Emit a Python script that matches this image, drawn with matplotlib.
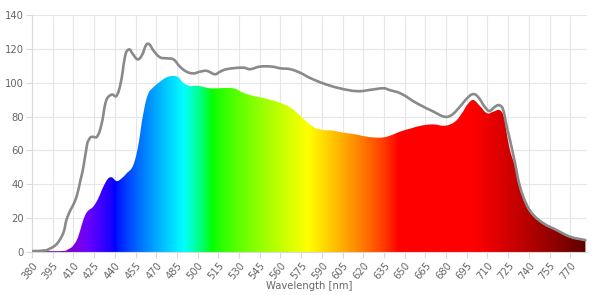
import numpy as np
import matplotlib
matplotlib.use("Agg")
import matplotlib.pyplot as plt
from matplotlib.patches import PathPatch
from matplotlib.path import Path

# ---- data ----
outline_wl = [380, 390, 393, 397, 400, 403, 405, 408, 410, 412.4, 415, 417.2, 420, 421, 423, 427,
              430.5, 434, 437.8, 441, 444.3, 448, 450.5, 453, 456.6, 459.5, 463, 465, 468, 472.8,
              477.6, 482.4, 487.2, 492, 497, 501.7, 506.6, 512.6, 516.2, 521, 533, 538, 545, 554,
              560, 567, 574, 581, 591, 603, 616, 627, 635, 639, 647, 659, 671, 679, 684, 690, 696,
              700, 703.4, 708.3, 711.4, 715, 718.2, 721, 724, 726.4, 730, 733.6, 738.5, 743.3,
              750.5, 760, 770, 781]
outline_val = [0.5, 1, 2, 4, 7, 12, 19, 25, 28, 33, 42, 50, 64, 66, 68, 68,
               76, 90, 93, 92, 100, 117.5, 119.7, 117, 113.8, 116, 122.7, 122.7, 119, 115,
               114.4, 113.8, 109.5, 106.5, 105.5, 106.5, 107, 105, 106.5, 108, 108.9, 108, 109.5, 109.5,
               108.5, 108, 106, 103, 99.6, 96.7, 95, 96, 96.7, 95.7, 93.7, 87.8, 82.9, 79.9, 80.9, 85.8, 91.4,
               93.3, 91.4, 85.5, 83.3, 85.5, 86.8, 84.9, 74, 66, 52.4, 38.6, 27.8, 21.9,
               17, 13, 9, 7]

spectrum_wl = [380, 395, 404, 406, 409, 412.4, 415, 417.2, 420, 424.4, 428, 431.7, 435.3, 437.8,
               441.4, 445, 448.6, 452.2, 454.6, 457, 460.7, 464.3, 467.9, 472.8, 477.6, 482.4, 486,
               489.6, 494.5, 498, 501.7, 509, 526, 533, 538, 545, 555, 562, 567, 573, 579, 585, 591,
               598, 605.6, 613, 620, 627, 634.6, 640.7, 646.7, 654.6, 661.8, 670.8, 679.3, 686.5,
               691.4, 696.2, 699.8, 704.6, 709.9, 714.3, 718.6, 721.5, 724, 726.4, 730, 733.6, 738.5,
               743.3, 750.5, 760, 770, 781]
spectrum_val = [0.5, 0.5, 0.7, 1.5, 3, 7, 13, 19, 23.8, 26.8, 31.7, 38.6, 43.5, 44.1,
                41.9, 43.5, 46.5, 49.4, 54.3, 63, 81.9, 93.7, 97.3, 100.6, 103.2, 104, 103.2,
                100, 98, 98.2, 98, 96.7, 96.7, 94.1, 92.7, 91.4, 89.4, 87.4, 85.5, 81.5, 77, 73.4, 72.1,
                71.7, 70.5, 69.7, 68.5, 67.7, 67.7, 69.1, 71.1, 73, 74.6, 75.4, 74.6, 77,
                81.9, 87.8, 89.8, 86.2, 81.9, 82.9, 83.9, 80.9, 70.1, 60, 50.5, 37, 26.5,
                21, 16.3, 12.5, 8.5, 6.5]

x_ticks = list(range(380, 771, 15))
y_ticks = list(range(0, 141, 20))


def wl_to_rgb(w, gamma=0.8):
    if w < 440:
        r, g, b = -(w - 440) / 60.0, 0.0, 1.0
    elif w < 490:
        r, g, b = 0.0, (w - 440) / 50.0, 1.0
    elif w < 510:
        r, g, b = 0.0, 1.0, -(w - 510) / 20.0
    elif w < 580:
        r, g, b = (w - 510) / 70.0, 1.0, 0.0
    elif w < 645:
        r, g, b = 1.0, -(w - 645) / 65.0, 0.0
    else:
        r, g, b = 1.0, 0.0, 0.0
    if w < 420:
        f = 0.3 + 0.7 * (w - 380) / 40.0
    elif w > 700:
        f = 0.3 + 0.7 * (780 - w) / 80.0
    else:
        f = 1.0
    f = max(f, 0.22)
    return [max(0.0, min(1.0, (c * f) ** gamma)) if c > 0 else 0.0 for c in (r, g, b)]


PX_X, PX_Y = 1.38, 1.693  # approx pixels per unit, for spline tension distances


def spline_path(xs, ys, tension=0.4, close_to_zero=False):
    """Chart.js-style bezier curve through the given points."""
    xs = np.asarray(xs, float)
    ys = np.asarray(ys, float)
    n = len(xs)
    cps_prev = np.zeros((n, 2))
    cps_next = np.zeros((n, 2))
    for i in range(n):
        p = np.array([xs[i], ys[i]])
        pr = np.array([xs[max(i - 1, 0)], ys[max(i - 1, 0)]])
        nx = np.array([xs[min(i + 1, n - 1)], ys[min(i + 1, n - 1)]])
        d01 = np.hypot((p[0] - pr[0]) * PX_X, (p[1] - pr[1]) * PX_Y)
        d12 = np.hypot((nx[0] - p[0]) * PX_X, (nx[1] - p[1]) * PX_Y)
        tot = d01 + d12
        s01 = d01 / tot if tot else 0
        s12 = d12 / tot if tot else 0
        fa, fb = tension * s01, tension * s12
        cps_prev[i] = p - fa * (nx - pr)
        cps_next[i] = p + fb * (nx - pr)
    cps_prev[:, 1] = np.clip(cps_prev[:, 1], 0, 140)
    cps_next[:, 1] = np.clip(cps_next[:, 1], 0, 140)
    verts = [(xs[0], ys[0])]
    codes = [Path.MOVETO]
    for i in range(n - 1):
        verts += [tuple(cps_next[i]), tuple(cps_prev[i + 1]), (xs[i + 1], ys[i + 1])]
        codes += [Path.CURVE4] * 3
    if close_to_zero:
        verts += [(xs[-1], 0), (xs[0], 0), (xs[0], ys[0])]
        codes += [Path.LINETO, Path.LINETO, Path.CLOSEPOLY]
    return Path(verts, codes)


W, H = 600, 295
fig = plt.figure(figsize=(W / 100, H / 100), dpi=100)
x0, x1 = 380, 782
ax_left, ax_right = 32 / W, 586.8 / W
ax_bottom, ax_top = (H - 252) / H, (H - 15) / H
ax = fig.add_axes([ax_left, ax_bottom, ax_right - ax_left, ax_top - ax_bottom])
ax.set_xlim(x0, x1)
ax.set_ylim(0, 140)

# grid
grid_c = "#e6e6e6"
for t in x_ticks:
    ax.axvline(t, color=grid_c, lw=0.8, zorder=0)
for t in y_ticks:
    ax.axhline(t, color=grid_c, lw=0.8, zorder=0)

# spectral gradient fill clipped to spectrum shape
cols = np.linspace(x0, x1, 800)
grad = np.array([wl_to_rgb(w) for w in cols])[None, :, :]
im = ax.imshow(grad, extent=(x0, x1, 0, 140), aspect="auto", origin="lower",
               interpolation="bilinear", zorder=1)
clip = PathPatch(spline_path(spectrum_wl, spectrum_val, close_to_zero=True),
                 facecolor="none", edgecolor="none", transform=ax.transData)
ax.add_patch(clip)
im.set_clip_path(clip)

# outline
line = PathPatch(spline_path(outline_wl, outline_val), facecolor="none", edgecolor="#8a8a8a",
                 lw=1.9, joinstyle="round", capstyle="round", zorder=3)
ax.add_patch(line)

# axes styling
for s in ["top", "right"]:
    ax.spines[s].set_visible(False)
for s in ["left", "bottom"]:
    ax.spines[s].set_color("#d9d9d9")
    ax.spines[s].set_linewidth(0.8)

ax.set_xticks(x_ticks)
ax.set_xticklabels([str(t) for t in x_ticks], rotation=50, ha="right", rotation_mode="anchor")
ax.set_yticks(y_ticks)
ax.tick_params(axis="both", colors="#d9d9d9", labelcolor="#666666", labelsize=7.2,
               length=4, width=0.8, pad=2)
ax.set_xlabel("Wavelength [nm]", color="#666666", fontsize=7.2, labelpad=0)

fig.savefig("out.png", dpi=100)
